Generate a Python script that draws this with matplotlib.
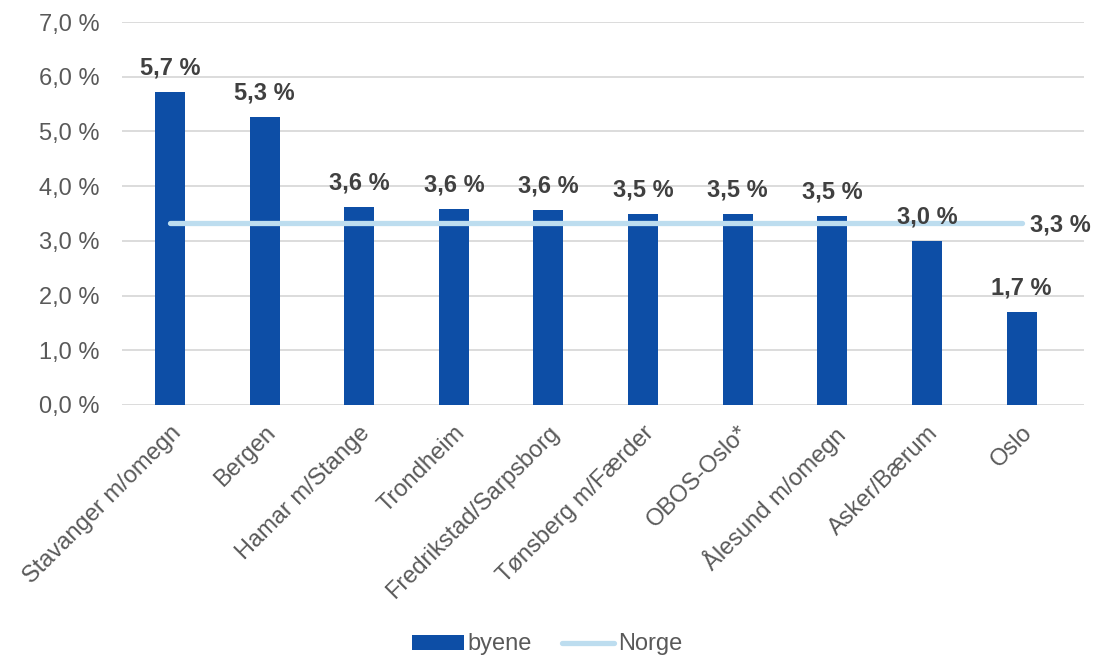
import matplotlib.pyplot as plt
import numpy as np

plt.rcParams['font.family'] = ['Liberation Sans', 'DejaVu Sans']

byer = ['Stavanger m/omegn', 'Bergen', 'Hamar m/Stange', 'Trondheim',
        'Fredrikstad/Sarpsborg', 'Tønsberg m/Færder', 'OBOS-Oslo*',
        'Ålesund m/omegn', 'Asker/Bærum', 'Oslo']
byene = [5.72, 5.27, 3.62, 3.59, 3.56, 3.49, 3.49, 3.46, 3.00, 1.70]
norge = 3.32

yticks = np.arange(0, 7.01, 1.0)

def pct(v):
    return f"{v:.1f}".replace('.', ',') + ' %'

fig = plt.figure(figsize=(10.94, 6.57), dpi=100)
ax = fig.add_axes([122/1094, 1-405/657, (1084-122)/1094, (405-22)/657])

x = np.arange(len(byer))
bars = ax.bar(x, byene, width=0.317, color='#0D4EA6', zorder=3, label='byene')
line, = ax.plot([x[0], x[-1]], [norge, norge], color='#BDDDEF', lw=3.8,
                solid_capstyle='round', zorder=4, label='Norge')

for xi, v in zip(x, byene):
    ax.annotate(pct(v), (xi, v), xytext=(0, 9), textcoords='offset points',
                ha='center', va='bottom', fontsize=17, fontweight='bold',
                color='#404040', zorder=5)
ax.annotate(pct(norge), (x[-1], norge), xytext=(6, -1), textcoords='offset points',
            ha='left', va='center', fontsize=17, fontweight='bold', color='#404040')

ax.set_xlim(-0.507, 9.66)
ax.set_ylim(0, 7)
ax.set_yticks(yticks)
ax.set_yticklabels([pct(t) for t in yticks], fontsize=17, color='#595959')
ax.set_xticks(x)
ax.set_xticklabels(byer, rotation=45, ha='right', rotation_mode='anchor',
                   fontsize=17, color='#595959')
ax.tick_params(axis='y', length=0, pad=16)
ax.tick_params(axis='x', length=0, pad=12)
ax.grid(axis='y', color='#D9D9D9', lw=1.3, zorder=0)
for s in ax.spines.values():
    s.set_visible(False)

leg = fig.legend([bars, line], ['byene', 'Norge'], loc='lower center',
                 bbox_to_anchor=(0.5, -0.03), ncol=2, frameon=False, fontsize=17,
                 handlelength=2.2, handleheight=0.6, columnspacing=1.3,
                 handletextpad=0.15)
for t in leg.get_texts():
    t.set_color('#595959')

fig.savefig('out.png', dpi=100)
